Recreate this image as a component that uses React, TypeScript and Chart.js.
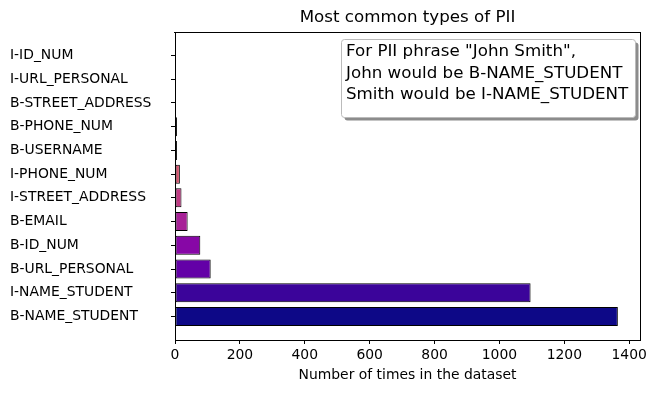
import React, { useEffect, useRef } from "react";
import { Chart, registerables } from "chart.js";

Chart.register(...registerables);

// Categories listed bottom to top (matplotlib barh order)
const categories = [
  "B-NAME_STUDENT",
  "I-NAME_STUDENT",
  "B-URL_PERSONAL",
  "B-ID_NUM",
  "B-EMAIL",
  "I-STREET_ADDRESS",
  "I-PHONE_NUM",
  "B-USERNAME",
  "B-PHONE_NUM",
  "B-STREET_ADDRESS",
  "I-URL_PERSONAL",
  "I-ID_NUM",
];
const counts = [1365, 1096, 110, 78, 39, 20, 15, 6, 6, 2, 1, 1];
const barColors = [
  "#0d0887", "#3b049a", "#6300a7", "#8707a6", "#a72197", "#c03a83",
  "#d5546e", "#e76f5a", "#f58c46", "#fdad32", "#fcd225", "#f0f921",
];
const xTicks = [0, 200, 400, 600, 800, 1000, 1200, 1400];
const titleText = "Most common types of PII";
const xAxisTitle = "Number of times in the dataset";
const noteLines = [
  'For PII phrase "John Smith",',
  "John would be B-NAME_STUDENT",
  "Smith would be I-NAME_STUDENT",
];

const FONT = "'DejaVu Sans', sans-serif";

function roundRectPath(ctx: CanvasRenderingContext2D, x: number, y: number, w: number, h: number, r: number) {
  ctx.beginPath();
  ctx.moveTo(x + r, y);
  ctx.arcTo(x + w, y, x + w, y + h, r);
  ctx.arcTo(x + w, y + h, x, y + h, r);
  ctx.arcTo(x, y + h, x, y, r);
  ctx.arcTo(x, y, x + w, y, r);
  ctx.closePath();
}

const decorPlugin = {
  id: "decorFrame",
  afterDatasetsDraw(chart: any) {
    const { ctx, chartArea } = chart;
    const L = Math.round(chartArea.left) - 1;
    const R = Math.round(chartArea.right);
    const T = Math.round(chartArea.top);
    const B = Math.round(chartArea.bottom);
    ctx.save();
    ctx.globalAlpha = 1;
    ctx.globalCompositeOperation = "source-over";
    ctx.fillStyle = "rgb(0,0,0)";
    ctx.fillRect(L, T, R - L + 1, 1);
    ctx.fillRect(R, T, 1, B - T + 1);
    ctx.restore();
  },
  afterDraw(chart: any) {
    const { ctx, chartArea } = chart;
    ctx.save();
    ctx.globalAlpha = 1;
    // title
    ctx.fillStyle = "#000000";
    ctx.font = `16.7px ${FONT}`;
    ctx.textAlign = "center";
    ctx.textBaseline = "middle";
    ctx.fillText(titleText, (chartArea.left + chartArea.right) / 2, 18);
    // note box with shadow
    const bx = 341.5, by = 39.5, bw = 294, bh = 78;
    roundRectPath(ctx, bx + 3, by + 3, bw, bh, 3);
    ctx.fillStyle = "rgba(128,128,128,0.9)";
    ctx.fill();
    roundRectPath(ctx, bx, by, bw, bh, 3);
    ctx.fillStyle = "#ffffff";
    ctx.fill();
    ctx.strokeStyle = "#bbbbbb";
    ctx.lineWidth = 1;
    ctx.stroke();
    ctx.fillStyle = "#000000";
    ctx.font = `16.7px ${FONT}`;
    ctx.textAlign = "left";
    ctx.textBaseline = "middle";
    noteLines.forEach((line, i) => {
      ctx.fillText(line, 346, 52 + i * 21.5);
    });
    ctx.restore();
  },
};

export default function App() {
  const ref = useRef<HTMLCanvasElement>(null);
  useEffect(() => {
    const canvas = ref.current!;
    const chart = new Chart(canvas, {
      type: "bar",
      data: {
        datasets: [
          {
            data: categories.map((_, i) => ({ x: counts[i], y: i })),
            backgroundColor: barColors,
            borderColor: "#000000",
            borderWidth: 1,
            borderSkipped: false,
            categoryPercentage: 1,
            barPercentage: 0.8,
          },
        ],
      },
      options: {
        indexAxis: "y",
        animation: false,
        responsive: false,
        layout: { padding: { left: 10, right: 16, top: 32, bottom: 0 } },
        plugins: {
          legend: { display: false },
          tooltip: { enabled: false },
          title: { display: false },
        },
        scales: {
          x: {
            type: "linear",
            min: 0,
            max: 1433.25,
            afterBuildTicks: (scale: any) => {
              scale.ticks = xTicks.map((v) => ({ value: v }));
            },
            afterFit: (scale: any) => {
              scale.height = 53;
              scale.paddingLeft = 0;
              scale.paddingRight = 0;
            },
            grid: { display: true, drawOnChartArea: false, drawTicks: true, tickLength: 4, color: "#000", offset: false },
            border: { display: true, color: "#000000", width: 1 },
            ticks: {
              color: "#000",
              font: { family: FONT, size: 13.9 },
              padding: 3,
              maxRotation: 0,
              autoSkip: false,
              callback: (v: any) => String(v),
            },
            title: {
              display: true,
              text: xAxisTitle,
              color: "#000",
              font: { family: FONT, size: 13.9 },
              padding: { top: 4, bottom: 9 },
            },
          },
          y: {
            type: "linear",
            min: -0.99,
            max: 11.99,
            offset: false,
            afterBuildTicks: (scale: any) => {
              scale.ticks = categories.map((_, i) => ({ value: i }));
            },
            afterFit: (scale: any) => {
              scale.width = 165;
              scale.paddingTop = 0;
              scale.paddingBottom = 0;
            },
            grid: { display: true, drawOnChartArea: false, drawTicks: true, tickLength: 4, color: "#000", offset: false },
            border: { display: true, color: "#000000", width: 1 },
            ticks: {
              color: "#000",
              font: { family: FONT, size: 13.9 },
              crossAlign: "far",
              autoSkip: false,
              callback: (v: any) => categories[v as number] ?? "",
            },
          },
        },
      },
      plugins: [decorPlugin],
    } as any);
    return () => chart.destroy();
  }, []);
  return (
    <div style={{ position: "fixed", left: 0, top: 0, width: 656, height: 393, background: "#fff" }}>
      <canvas ref={ref} width={656} height={393} />
    </div>
  );
}
